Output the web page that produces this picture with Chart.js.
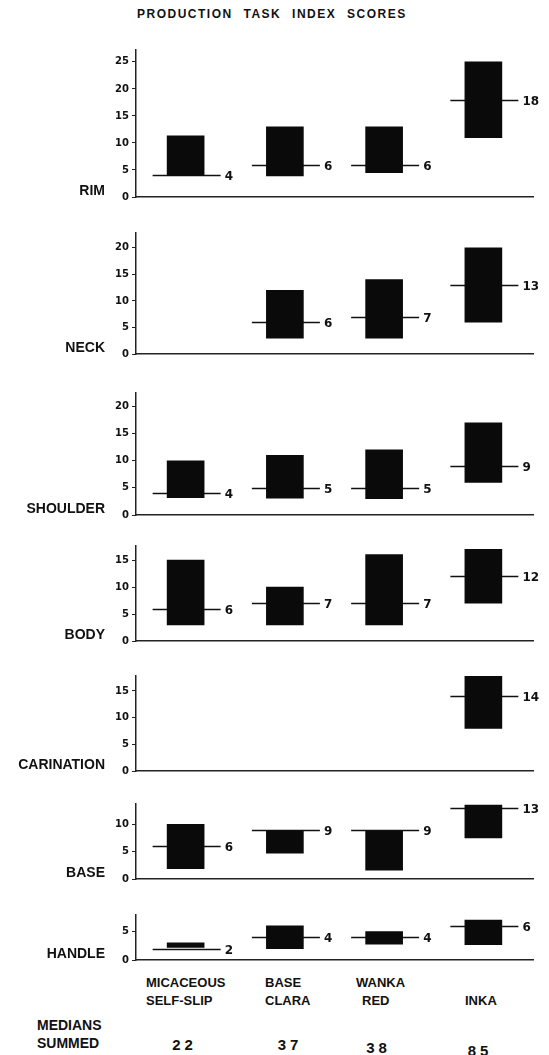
<!DOCTYPE html>
<html>
<head>
<meta charset="utf-8">
<script src="https://cdn.jsdelivr.net/npm/chart.js@4.4.0/dist/chart.umd.min.js"></script>
<style>
    body { margin: 0; background: #fff; }
    #page { position: relative; width: 549px; height: 1055px; overflow: hidden;
            font-family: "Liberation Sans", Arial, sans-serif; font-weight: bold; color: #111; }
    #page canvas { position: absolute; left: 0; }
    .txt { position: absolute; font-size: 13px; line-height: 18px; white-space: nowrap; }
    #title { left: 137px; top: 5px; font-size: 12px; letter-spacing: 1.5px; word-spacing: 6px; }
    .sum { width: 50px; text-align: center; font-size: 15px; letter-spacing: 4px;
           padding-left: 4px; box-sizing: border-box; }
</style>
</head>
<body>
<div id="page">
    <div id="title" class="txt">PRODUCTION TASK INDEX SCORES</div>
</div>
<script>
// categories (two text lines each) and panel names
const categories = [["MICACEOUS", "SELF-SLIP"], ["BASE", "CLARA"], ["WANKA", "RED"], ["", "INKA"]];
const panelNames = ["RIM", "NECK", "SHOULDER", "BODY", "CARINATION", "BASE", "HANDLE"];

// [low, high] ranges of the index scores, and medians, per panel
const rimRanges = [[4, 11.3], [3.9, 13], [4.5, 13], [11, 25]];
const rimMedians = [4, 6, 6, 18];
const neckRanges = [null, [3, 12], [3, 14], [6, 20]];
const neckMedians = [null, 6, 7, 13];
const shoulderRanges = [[3.2, 10], [3.1, 11], [3, 12], [6, 17]];
const shoulderMedians = [4, 5, 5, 9];
const bodyRanges = [[3, 15], [3, 10], [3, 16], [7, 17]];
const bodyMedians = [6, 7, 7, 12];
const carinationRanges = [null, null, null, [8, 18]];
const carinationMedians = [null, null, null, 14];
const baseRanges = [[1.9, 10], [4.7, 8.8], [1.6, 8.7], [7.5, 13.5]];
const baseMedians = [6, 9, 9, 13];
const handleRanges = [[2.2, 3], [2, 6], [2.8, 5], [2.7, 7]];
const handleMedians = [2, 4, 4, 6];

// top of each y axis
const yMax = [27.2, 22.8, 22.5, 17.6, 17.8, 13.7, 7.9];
const summedMedians = [22, 37, 38, 85];

const allRanges = [rimRanges, neckRanges, shoulderRanges, bodyRanges, carinationRanges, baseRanges, handleRanges];
const allMedians = [rimMedians, neckMedians, shoulderMedians, bodyMedians, carinationMedians, baseMedians, handleMedians];

// layout: pixel rows of each panel (axis top, zero line)
const axisTop = [50, 233, 393, 546, 676, 804, 915];
const zeroY = [197, 354, 515, 641, 771, 879, 960];
const PAD = 10;

function makeMedianPlugin(medians, name) {
    return {
        id: "medianMarks",
        // median lines go under the bars
        beforeDatasetsDraw(chart) {
            let ctx = chart.ctx;
            let xs = chart.scales.x, ys = chart.scales.y;
            ctx.save();
            ctx.strokeStyle = "#111";
            ctx.lineWidth = 1.3;
            medians.forEach((m, i) => {
                if (m === null) return;
                let cx = xs.getPixelForValue(i);
                let cy = Math.round(ys.getPixelForValue(m)) + 0.5;
                ctx.beginPath();
                ctx.moveTo(cx - 33, cy);
                ctx.lineTo(cx + 35, cy);
                ctx.stroke();
            });
            ctx.restore();
        },
        afterDatasetsDraw(chart) {
            let ctx = chart.ctx;
            let xs = chart.scales.x, ys = chart.scales.y;
            ctx.save();
            ctx.fillStyle = "#111";
            ctx.font = "bold 12px 'DejaVu Sans'";
            ctx.textAlign = "left";
            ctx.textBaseline = "middle";
            medians.forEach((m, i) => {
                if (m === null) return;
                let cx = xs.getPixelForValue(i);
                let cy = Math.round(ys.getPixelForValue(m)) + 0.5;
                ctx.fillText(String(m), cx + 39, cy + 1);
            });
            // panel name on the left
            ctx.font = "bold 14px 'Liberation Sans'";
            ctx.textAlign = "right";
            ctx.fillText(name, 105, ys.getPixelForValue(0) - 6);
            ctx.restore();
        }
    };
}

let page = document.getElementById("page");

panelNames.forEach((name, p) => {
    let canvas = document.createElement("canvas");
    canvas.width = 549;
    canvas.height = zeroY[p] - axisTop[p] + 2 * PAD;
    canvas.style.top = (axisTop[p] - PAD) + "px";
    page.appendChild(canvas);

    new Chart(canvas, {
        type: "bar",
        data: {
            labels: categories.map(c => c.join(" ").trim()),
            datasets: [{
                data: allRanges[p],
                backgroundColor: "#0a0a0a",
                borderWidth: 0,
                barThickness: 37
            }]
        },
        options: {
            responsive: false,
            animation: false,
            layout: { padding: { top: PAD, bottom: PAD, left: 106, right: 16 } },
            plugins: { legend: { display: false }, tooltip: { enabled: false } },
            scales: {
                x: {
                    grid: { display: false },
                    ticks: { display: false },
                    border: { display: true, color: "#222", width: 1.5 },
                    afterFit: s => { s.height = 0; }
                },
                y: {
                    min: 0,
                    max: yMax[p],
                    ticks: {
                        stepSize: 5,
                        includeBounds: false,
                        color: "#111",
                        padding: 3,
                        font: { family: "DejaVu Sans", size: 10, weight: "bold" }
                    },
                    grid: { drawOnChartArea: false, drawTicks: true, tickLength: 4, color: "#222" },
                    border: { display: true, color: "#222", width: 1.5 },
                    afterFit: s => { s.width = 30; }
                }
            }
        },
        plugins: [makeMedianPlugin(allMedians[p], name)]
    });
});

// category labels under the last panel
const labelLeft = [146, 265, 356, 465];
const secondLineIndent = [0, 0, 6, 0];
categories.forEach((lines, i) => {
    let d = document.createElement("div");
    d.className = "txt";
    d.style.left = labelLeft[i] + "px";
    d.style.top = "974px";
    d.innerHTML = (lines[0] || "&nbsp;") + "<br><span style='margin-left:" +
        secondLineIndent[i] + "px'>" + lines[1] + "</span>";
    page.appendChild(d);
});

let summedTitle = document.createElement("div");
summedTitle.className = "txt";
summedTitle.style.left = "37px";
summedTitle.style.top = "1016px";
summedTitle.style.fontSize = "14px";
summedTitle.innerHTML = "MEDIANS<br>SUMMED";
page.appendChild(summedTitle);

const sumCenter = [182.5, 288, 376.5, 478];
const sumTop = [1036, 1036, 1039, 1042];
summedMedians.forEach((v, i) => {
    let d = document.createElement("div");
    d.className = "txt sum";
    d.style.left = (sumCenter[i] - 25) + "px";
    d.style.top = sumTop[i] + "px";
    d.textContent = v;
    page.appendChild(d);
});
</script>
</body>
</html>
